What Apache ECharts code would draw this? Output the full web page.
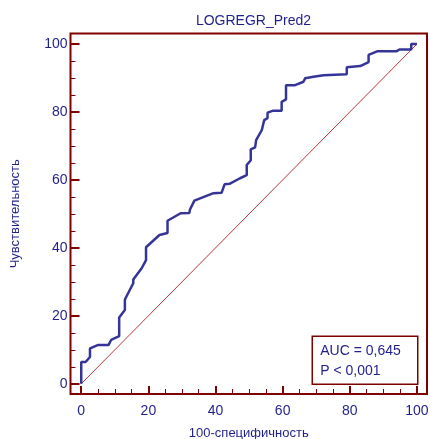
<!DOCTYPE html>
<html>
<head>
<meta charset="utf-8">
<script src="https://cdn.jsdelivr.net/npm/echarts@6/dist/echarts.min.js"></script>
<style>html,body{margin:0;padding:0;background:#fff}#c{width:430px;height:439px}</style>
</head>
<body>
<div id="c"></div>
<script>
// ROC curve values (100-specificity, sensitivity)
var rocX = [0, 0, 1.3, 2.6, 2.6, 4.9, 8.1, 8.9, 11.3, 11.3, 13.0, 13.0, 15.5, 15.5, 18.0, 19.3, 19.3, 23.3, 25.7, 25.7, 29.6, 32.2, 32.4, 33.7, 39.4, 41.8, 42.7, 44.3, 47.3, 49.3, 49.3, 50.5, 50.5, 51.8, 52.1, 53.8, 54.5, 55.5, 55.5, 57.2, 59.7, 59.7, 61.0, 61.0, 63.7, 66.2, 66.7, 69.2, 72.2, 79.1, 79.1, 83.1, 85.6, 85.6, 88.3, 94.0, 94.8, 98.3, 98.3, 100];
var rocY = [0, 6.4, 6.4, 7.9, 10.4, 11.4, 11.4, 12.9, 14.0, 19.5, 21.7, 24.8, 29.6, 30.7, 34.0, 36.4, 40.2, 43.8, 44.4, 48.0, 50.2, 50.3, 51.3, 53.9, 56.1, 56.2, 58.7, 58.9, 60.5, 61.4, 64.4, 65.8, 69.0, 69.6, 71.7, 74.7, 77.6, 78.2, 79.8, 80.4, 80.4, 83.0, 83.7, 87.9, 87.9, 88.9, 89.9, 90.4, 90.8, 91.1, 93.2, 93.5, 94.7, 96.8, 97.9, 97.9, 98.4, 98.4, 100, 100];
var diagX = [0, 100];
var diagY = [0, 100];
var majorTicks = [0, 20, 40, 60, 80, 100];
var minorTicks = [5, 10, 15, 25, 30, 35, 45, 50, 55, 65, 70, 75, 85, 90, 95];
var titleText = 'LOGREGR_Pred2';
var xName = '100-специфичность';
var yName = 'Чувствительность';
var statLines = ['AUC = 0,645', 'P < 0,001'];

var FONT = "'Liberation Sans', Arial, sans-serif";
var DARKRED = '#7f0000';
var NAVY = '#1f1f8c';
var xMin = -3.2, xMax = 103, yMin = -3.0, yMax = 103.1;

function pairs(a, b) { return a.map(function (v, i) { return [v, b[i]]; }); }

function mkAxis(kind, isMinor, min, max) {
  var ax = {
    type: 'value', min: min, max: max,
    position: kind === 'x' ? 'bottom' : 'left',
    axisLine: { show: false, onZero: false },
    splitLine: { show: false },
    axisTick: {
      show: true, inside: true,
      customValues: isMinor ? minorTicks : majorTicks,
      length: isMinor ? 5 : (kind === 'x' ? 8 : 9),
      lineStyle: { color: DARKRED, width: isMinor ? 1 : 2 }
    },
    axisLabel: isMinor ? { show: false } : {
      show: true, customValues: majorTicks,
      color: NAVY, fontFamily: FONT, fontSize: 14,
      margin: kind === 'x' ? 10 : 3
    }
  };
  if (!isMinor) {
    ax.name = kind === 'x' ? xName : yName;
    ax.nameLocation = 'middle';
    ax.nameGap = kind === 'x' ? 33 : 49;
    ax.nameTextStyle = { color: NAVY, fontFamily: FONT, fontSize: 13 };
  }
  return ax;
}

var chart = echarts.init(document.getElementById('c'), null, { renderer: 'canvas' });
chart.setOption({
  animation: false,
  backgroundColor: '#ffffff',
  title: {
    text: titleText, left: 248.5, textAlign: 'center', top: 9,
    textStyle: { color: NAVY, fontFamily: FONT, fontSize: 14, fontWeight: 'normal' }
  },
  grid: {
    left: 70.5, right: 3, top: 33.5, bottom: 45,
    outerBoundsMode: 'none', containLabel: false,
    show: true, borderColor: DARKRED, borderWidth: 2, backgroundColor: '#fff'
  },
  xAxis: [mkAxis('x', false, xMin, xMax), mkAxis('x', true, xMin, xMax)],
  yAxis: [mkAxis('y', false, yMin, yMax), mkAxis('y', true, yMin, yMax)],
  series: [
    {
      type: 'line', data: pairs(diagX, diagY), symbol: 'none', silent: true,
      lineStyle: { color: '#b83838', width: 1 }, z: 2
    },
    {
      type: 'line', data: pairs(rocX, rocY), symbol: 'none', silent: true,
      lineStyle: { color: '#353599', width: 2.5 }, z: 3
    }
  ],
  graphic: [
    {
      type: 'group', left: 311.5, top: 335.5, z: 10,
      children: [
        { type: 'rect', shape: { x: 0, y: 0, width: 105.5, height: 48 },
          style: { fill: '#fff', stroke: DARKRED, lineWidth: 1.5 } },
        { type: 'text', x: 8, y: 8,
          style: { text: statLines[0], fill: NAVY, font: '14px ' + FONT } },
        { type: 'text', x: 8, y: 28,
          style: { text: statLines[1], fill: NAVY, font: '14px ' + FONT } }
      ]
    }
  ]
});
</script>
</body>
</html>
